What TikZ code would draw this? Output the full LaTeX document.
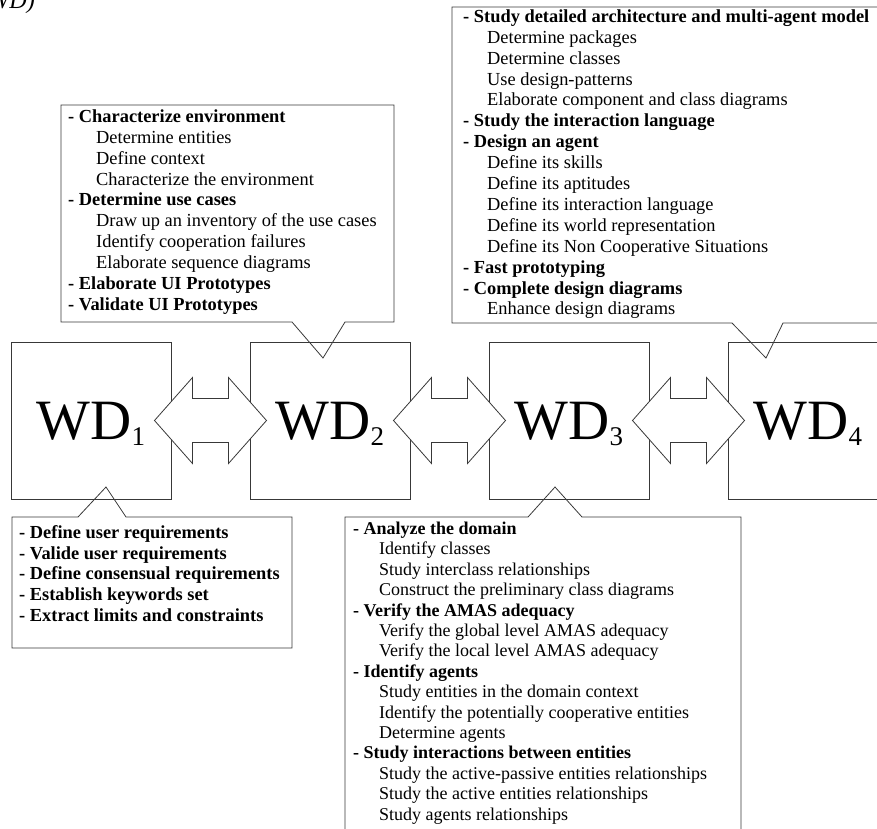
\documentclass[tikz,border=0pt]{standalone}
\usepackage{fontspec}
\setmainfont{Liberation Serif}
\usetikzlibrary{calc}
% indentation of the sub-items in each note block
\newcommand{\indA}{\hspace*{28pt}}
\newcommand{\indB}{\hspace*{24pt}}
\newcommand{\indC}{\hspace*{26pt}}
\begin{document}
\begin{tikzpicture}[x=1pt,y=-1pt,
  ink/.style={draw=black!78, line width=0.8pt},
  wdbox/.style={ink, minimum width=160pt, minimum height=157pt, inner sep=0pt},
  wdlabel/.style={anchor=base, inner sep=0pt, font=\fontsize{57}{57}\selectfont},
  callout/.style={ink, line join=miter},
  dblarrow/.style={ink, fill=white, line join=miter},
  notes/.style={anchor=north west, inner sep=0pt, align=left,
                font=\fontsize{18.4}{20.9}\selectfont},
  notesC/.style={notes, font=\fontsize{18}{20.4}\selectfont},
]
\useasboundingbox (0,0) rectangle (877,828);
\clip (0,0) rectangle (877,828);

% caption fragment at the top edge
\node[anchor=base east, inner sep=0pt, font=\fontsize{24}{24}\selectfont\itshape] (cap) at (35,8) {(WD)};

% work definition boxes
\node[wdbox] (wd1) at (91,420.5) {};
\node[wdbox] (wd2) at (330,420.5) {};
\node[wdbox] (wd3) at (569,420.5) {};
\node[wdbox] (wd4) at (808,420.5) {};

\newcommand{\wdsub}[1]{{\fontsize{27}{27}\selectfont\raisebox{-6pt}{#1}}}
\node[wdlabel] (wd1t) at (91,439) {WD\wdsub{1}};
\node[wdlabel] (wd2t) at (330,439) {WD\wdsub{2}};
\node[wdlabel] (wd3t) at (569,439) {WD\wdsub{3}};
\node[wdlabel] (wd4t) at (808,439) {WD\wdsub{4}};

% double arrows between neighbouring boxes
\coordinate (m12) at ($(wd1.east)!0.5!(wd2.west)$);
\coordinate (m23) at ($(wd2.east)!0.5!(wd3.west)$);
\coordinate (m34) at ($(wd3.east)!0.5!(wd4.west)$);
\foreach \m in {m12,m23,m34}{
  \draw[dblarrow, shift={(\m)}]
    (-56,0) -- (-18,-43) -- (-18,-22) -- (18,-22) -- (18,-43) -- (56,0)
    -- (18,43) -- (18,22) -- (-18,22) -- (-18,43) -- cycle;
}

% callout above WD2
\draw[callout] (61,105) -- (394,105) -- (394,322) -- (345,322) -- (323,358)
  -- (292,322) -- (61,322) -- cycle;
\node[notes] (nA) at (68,109.4) {%
\textbf{- Characterize environment}\\
\indA Determine entities\\
\indA Define context\\
\indA Characterize the environment\\
\textbf{- Determine use cases}\\
\indA Draw up an inventory of the use cases\\
\indA Identify cooperation failures\\
\indA Elaborate sequence diagrams\\
\textbf{- Elaborate UI Prototypes}\\
\textbf{- Validate UI Prototypes}};

% callout above WD4
\draw[callout] (900,7) -- (452,7) -- (452,323) -- (732,323) -- (766,358)
  -- (783,323) -- (900,323);
\node[notes] (nB) at (463,9.4) {%
\textbf{- Study detailed architecture and multi-agent model}\\
\indB Determine packages\\
\indB Determine classes\\
\indB Use design-patterns\\
\indB Elaborate component and class diagrams\\
\textbf{- Study the interaction language}\\
\textbf{- Design an agent}\\
\indB Define its skills\\
\indB Define its aptitudes\\
\indB Define its interaction language\\
\indB Define its world representation\\
\indB Define its Non Cooperative Situations\\
\textbf{- Fast prototyping}\\
\textbf{- Complete design diagrams}\\
\indB Enhance design diagrams};

% callout below WD1
\draw[callout] (12,517) -- (78,517) -- (106,487) -- (126,517) -- (292,517)
  -- (292,648) -- (12,648) -- cycle;
\node[notes] (nD) at (19,525) {%
\textbf{- Define user requirements}\\
\textbf{- Valide user requirements}\\
\textbf{- Define consensual requirements}\\
\textbf{- Establish keywords set}\\
\textbf{- Extract limits and constraints}};

% callout below WD3
\draw[callout] (345,850) -- (345,517) -- (528,517) -- (555,487) -- (582,517)
  -- (741,517) -- (741,850);
\node[notesC] (nC) at (353,521.7) {%
\textbf{- Analyze the domain}\\
\indC Identify classes\\
\indC Study interclass relationships\\
\indC Construct the preliminary class diagrams\\
\textbf{- Verify the AMAS adequacy}\\
\indC Verify the global level AMAS adequacy\\
\indC Verify the local level AMAS adequacy\\
\textbf{- Identify agents}\\
\indC Study entities in the domain context\\
\indC Identify the potentially cooperative entities\\
\indC Determine agents\\
\textbf{- Study interactions between entities}\\
\indC Study the active-passive entities relationships\\
\indC Study the active entities relationships\\
\indC Study agents relationships};
\end{tikzpicture}
\end{document}
